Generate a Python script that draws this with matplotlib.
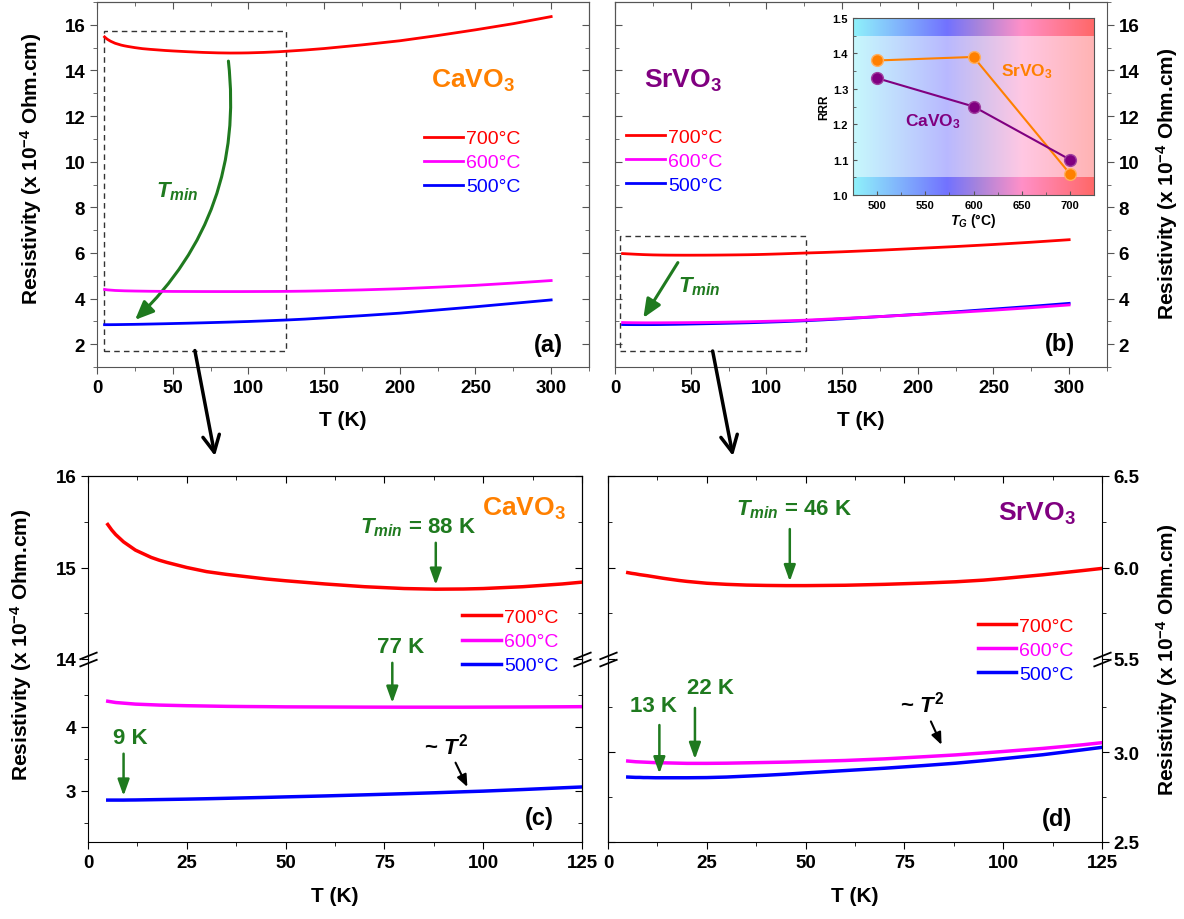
import numpy as np
import matplotlib.pyplot as plt
from matplotlib.patches import Rectangle, FancyArrowPatch, ConnectionPatch
from matplotlib.path import Path
from matplotlib.colors import LinearSegmentedColormap
from matplotlib.ticker import FixedLocator, FormatStrFormatter

plt.rcParams['font.family'] = ['Liberation Sans', 'DejaVu Sans']
plt.rcParams['font.weight'] = 'bold'
plt.rcParams['axes.labelweight'] = 'bold'
plt.rcParams['mathtext.fontset'] = 'custom'
plt.rcParams['mathtext.rm'] = 'Liberation Sans:bold'
plt.rcParams['mathtext.it'] = 'Liberation Sans:italic:bold'
plt.rcParams['mathtext.bf'] = 'Liberation Sans:bold'

# Resistivity (x 1e-4 Ohm.cm)
T = [5, 6, 7, 8, 9, 10, 12, 14, 16, 18, 20, 25, 30, 35, 40, 45, 50, 60, 70, 80, 88,
     95, 100, 110, 120, 125, 137.5, 150, 175, 200, 225, 250, 275, 300]
ca_700 = [15.47, 15.41, 15.36, 15.32, 15.28, 15.25, 15.19, 15.15, 15.11, 15.08, 15.055,
          15.00, 14.955, 14.925, 14.90, 14.875, 14.855, 14.82, 14.79, 14.77, 14.763,
          14.765, 14.77, 14.79, 14.82, 14.84, 14.895, 14.96, 15.12, 15.30, 15.53, 15.78,
          16.05, 16.36]
ca_600 = [4.40, 4.39, 4.38, 4.375, 4.37, 4.365, 4.355, 4.35, 4.345, 4.34, 4.337,
          4.33, 4.325, 4.32, 4.317, 4.315, 4.312, 4.31, 4.308, 4.307, 4.307,
          4.307, 4.308, 4.31, 4.313, 4.315, 4.325, 4.34, 4.38, 4.43, 4.50, 4.58,
          4.68, 4.79]
ca_500 = [2.855, 2.855, 2.855, 2.855, 2.855, 2.856, 2.857, 2.859, 2.861, 2.863, 2.865,
          2.87, 2.876, 2.883, 2.89, 2.897, 2.905, 2.92, 2.937, 2.955, 2.97,
          2.985, 2.995, 3.02, 3.047, 3.06, 3.10, 3.15, 3.25, 3.36, 3.50, 3.64,
          3.79, 3.94]
sr_700 = [5.972, 5.968, 5.965, 5.961, 5.958, 5.955, 5.948, 5.941, 5.935, 5.929, 5.924,
          5.914, 5.908, 5.904, 5.902, 5.901, 5.901, 5.903, 5.908, 5.915, 5.922,
          5.931, 5.94, 5.96, 5.983, 5.995, 6.02, 6.05, 6.12, 6.20, 6.28, 6.37,
          6.47, 6.58]
sr_600 = [2.950, 2.948, 2.946, 2.945, 2.944, 2.943, 2.941, 2.940, 2.939, 2.938, 2.937,
          2.937, 2.938, 2.940, 2.942, 2.944, 2.947, 2.953, 2.962, 2.974, 2.984,
          2.995, 3.003, 3.02, 3.04, 3.052, 3.09, 3.13, 3.21, 3.30, 3.39, 3.49,
          3.60, 3.72]
sr_500 = [2.861, 2.860, 2.859, 2.859, 2.858, 2.858, 2.857, 2.857, 2.857, 2.857, 2.857,
          2.858, 2.861, 2.866, 2.871, 2.877, 2.884, 2.897, 2.910, 2.925, 2.938,
          2.952, 2.963, 2.985, 3.012, 3.026, 3.065, 3.11, 3.21, 3.31, 3.42, 3.54,
          3.66, 3.79]
labels = ['700°C', '600°C', '500°C']
colors = ['#ff0000', '#ff00ff', '#0000ff']

# minimum temperatures (K): 700, 600, 500 °C
tmin_ca = [88, 77, 9]
tmin_sr = [46, 22, 13]

# inset: residual resistivity ratio vs growth temperature
tg = [500, 600, 700]
rrr_sr = [1.38, 1.39, 1.06]
rrr_ca = [1.33, 1.25, 1.10]

# zoom boxes drawn on the top panels (T range, rho range)
box_a = ((4.3, 125), (1.72, 15.74))
box_b = ((3, 126), (1.7, 6.75))

GRAY = '#555555'
GREEN = '#1f7a1f'
ORANGE = '#ff8000'
PURPLE = '#800080'
W, H = 1184, 920

fig = plt.figure(figsize=(W / 100, H / 100), dpi=100)


def frac(l, t, r, b):
    return [l / W, 1 - b / H, (r - l) / W, (b - t) / H]


def add_mirror(ax, side, major, minor, color):
    if side in ('top', 'bottom'):
        sec = ax.secondary_xaxis(side)
        axis = sec.xaxis
    else:
        sec = ax.secondary_yaxis(side)
        axis = sec.yaxis
    axis.set_major_locator(FixedLocator(major))
    axis.set_minor_locator(FixedLocator(minor))
    sec.tick_params(which='both', direction='in', color=color, labelleft=False,
                    labelright=False, labeltop=False, labelbottom=False)
    sec.tick_params(which='major', length=5)
    sec.tick_params(which='minor', length=3)
    for sp in sec.spines.values():
        sp.set_color(color)
    return sec


def legend(ax, handles, anchor):
    ax.legend(handles=handles, loc='upper left', bbox_to_anchor=anchor, frameon=False,
              prop={'size': 14, 'weight': 'normal'}, handlelength=2.0, handletextpad=0.15,
              labelspacing=0.33, borderpad=0, borderaxespad=0, labelcolor='linecolor')


# ---------------- top row ----------------
def top_panel(box, labels_right):
    ax = fig.add_axes(frac(*box))
    ax.set_xlim(0, 325)
    ax.set_ylim(1, 17)
    xm, xn = np.arange(0, 301, 50), np.arange(25, 326, 50)
    ym, yn = np.arange(2, 17, 2), np.arange(1, 18, 2)
    ax.xaxis.set_major_locator(FixedLocator(xm))
    ax.xaxis.set_minor_locator(FixedLocator(xn))
    ax.yaxis.set_major_locator(FixedLocator(ym))
    ax.yaxis.set_minor_locator(FixedLocator(yn))
    for sp in ax.spines.values():
        sp.set_color(GRAY)
    if labels_right:
        ax.yaxis.tick_right()
        ax.yaxis.set_label_position('right')
        add_mirror(ax, 'left', ym, yn, GRAY)
    else:
        add_mirror(ax, 'right', ym, yn, GRAY)
    add_mirror(ax, 'top', xm, xn, GRAY)
    ax.tick_params(which='both', direction='out', color=GRAY, labelsize=13.5, top=False)
    ax.tick_params(which='major', length=5)
    ax.tick_params(which='minor', length=3)
    ax.set_xlabel('T (K)', fontsize=15, labelpad=10)
    return ax


ax_a = top_panel((97, 3, 589, 368), False)
ax_b = top_panel((615, 3, 1107, 368), True)

ha = [ax_a.plot(T, y, color=c, lw=2, label=l)[0]
      for y, c, l in zip([ca_700, ca_600, ca_500], colors, labels)]
legend(ax_a, ha, (0.665, 0.65))
hb = [None] * 3
for i in (2, 1, 0):
    y = [sr_700, sr_600, sr_500][i]
    hb[i] = ax_b.plot(T, y, color=colors[i], lw=2, label=labels[i])[0]
legend(ax_b, hb, (0.023, 0.655))

for ax, (bx, by) in ((ax_a, box_a), (ax_b, box_b)):
    ax.add_patch(Rectangle((bx[0], by[0]), bx[1] - bx[0], by[1] - by[0], fill=False,
                           ls=(0, (4, 3)), lw=1, ec='#333333'))

ax_a.text(248, 13.6, 'CaVO$_3$', color=ORANGE, fontsize=19, ha='center', va='center')
ax_b.text(44.75, 13.6, 'SrVO$_3$', color=PURPLE, fontsize=19, ha='center', va='center')
ax_a.text(298, 2.0, '(a)', fontsize=17, ha='center', va='center')
ax_b.text(294, 2.05, '(b)', fontsize=17, ha='center', va='center')
ax_a.text(53, 8.75, '$T_{min}$', color=GREEN, fontsize=16, ha='center', va='center')
ax_b.text(56, 4.55, '$T_{min}$', color=GREEN, fontsize=16, ha='center', va='center')

ax_a.add_patch(FancyArrowPatch((86.6, 14.53), (23.8, 2.98), connectionstyle='arc3,rad=-0.25',
                               arrowstyle='-|>,head_length=0.7,head_width=0.3',
                               mutation_scale=16, color=GREEN, lw=2.2))
ax_b.add_patch(FancyArrowPatch((42.5, 5.68), (17.75, 3.05),
                               arrowstyle='-|>,head_length=0.7,head_width=0.3',
                               mutation_scale=16, color=GREEN, lw=2.2))

# inset
ins = fig.add_axes(frac(853, 19, 1094, 196))
cmap = LinearSegmentedColormap.from_list(
    'tg', [(0, '#8ff2fa'), (0.39, '#7272ff'), (0.52, '#a884dc'), (0.7, '#ff90c8'), (1, '#ff6868')])
ins.imshow(np.linspace(0, 1, 256)[None, :], extent=[475, 725, 1.0, 1.5], aspect='auto',
           cmap=cmap, zorder=0)
ins.add_patch(Rectangle((475, 1.05), 250, 0.4, color='white', alpha=0.5, lw=0, zorder=1))
ins.plot(tg, rrr_sr, '-o', color=ORANGE, ms=8.5, lw=1.5, mec='#ffb060', zorder=3)
ins.plot(tg, rrr_ca, '-o', color=PURPLE, ms=8.5, lw=1.5, mec='#a040a0', zorder=3)
ins.set_xlim(475, 725)
ins.set_ylim(1.0, 1.5)
ins.xaxis.set_major_locator(FixedLocator([500, 550, 600, 650, 700]))
ins.xaxis.set_minor_locator(FixedLocator([525, 575, 625, 675]))
ins.yaxis.set_major_locator(FixedLocator(np.arange(1.0, 1.51, 0.1)))
ins.yaxis.set_minor_locator(FixedLocator(np.arange(1.05, 1.5, 0.1)))
ins.yaxis.set_major_formatter(FormatStrFormatter('%.1f'))
ins.tick_params(which='both', direction='in', labelsize=8, color=GRAY)
ins.tick_params(which='major', length=3)
ins.tick_params(which='minor', length=2)
for sp in ins.spines.values():
    sp.set_color(GRAY)
ins.set_ylabel('RRR', fontsize=8.5, labelpad=2)
ins.set_xlabel('$T_G$ (°C)', fontsize=10, labelpad=1)
ins.text(655, 1.35, 'SrVO$_3$', color=ORANGE, fontsize=12.5, ha='center', va='center')
ins.text(558, 1.21, 'CaVO$_3$', color=PURPLE, fontsize=12.5, ha='center', va='center')


# ---------------- bottom row (broken y axes) ----------------
brk = Path([(-1, -0.8), (1, 0.0), (-1, 0.0), (1, 0.8)],
           [Path.MOVETO, Path.LINETO, Path.MOVETO, Path.LINETO])


def broken_panel(box, up_lim, lo_lim, up_maj, up_min, lo_maj, lo_min, labels_right, fmt):
    l, t, r, b = box
    m = (t + b) / 2
    lo = fig.add_axes(frac(l, m, r, b))
    up = fig.add_axes(frac(l, t, r, m))
    xm, xn = np.arange(0, 126, 25), np.arange(12.5, 126, 25)
    for ax, lim, maj, mnr in ((up, up_lim, up_maj, up_min), (lo, lo_lim, lo_maj, lo_min)):
        ax.set_facecolor('none')
        ax.set_xlim(0, 125)
        ax.set_ylim(*lim)
        ax.xaxis.set_major_locator(FixedLocator(xm))
        ax.xaxis.set_minor_locator(FixedLocator(xn))
        ax.yaxis.set_major_locator(FixedLocator(maj))
        ax.yaxis.set_minor_locator(FixedLocator(mnr))
        ax.yaxis.set_major_formatter(FormatStrFormatter(fmt))
        if labels_right:
            ax.yaxis.tick_right()
            add_mirror(ax, 'left', maj, mnr, 'k')
        else:
            add_mirror(ax, 'right', maj, mnr, 'k')
        ax.tick_params(which='both', direction='out', labelsize=13.5, top=False,
                       bottom=False, labelbottom=False)
        ax.tick_params(which='major', length=5)
        ax.tick_params(which='minor', length=3)
    up.spines['bottom'].set_visible(False)
    lo.spines['top'].set_visible(False)
    lo.tick_params(which='both', bottom=True, labelbottom=True)
    add_mirror(up, 'top', xm, xn, 'k')
    for x in (0, 1):
        lo.plot([x], [1], transform=lo.transAxes, marker=brk, ms=13, mew=1.3, mec='k',
                mfc='none', ls='none', clip_on=False, zorder=5)
    lo.set_xlabel('T (K)', fontsize=15, labelpad=11)
    return up, lo


up_c, lo_c = broken_panel((88, 477, 582, 843), (14, 16), (2.2, 5.06), [14, 15, 16], [14.5, 15.5],
                          [3, 4], [2.5, 3.5, 4.5], False, '%g')
up_d, lo_d = broken_panel((608, 477, 1102, 843), (5.5, 6.5), (2.5, 3.517), [5.5, 6.0, 6.5],
                          [5.75, 6.25], [2.5, 3.0], [2.75, 3.25], True, '%.1f')

for ax in (up_c, lo_c):
    hc = [ax.plot(T, y, color=c, lw=2.5, label=l)[0]
          for y, c, l in zip([ca_700, ca_600, ca_500], colors, labels)]
legend(up_c, hc, (0.758, 0.275))
for ax in (up_d, lo_d):
    hd = [None] * 3
    for i in (2, 1, 0):
        y = [sr_700, sr_600, sr_500][i]
        hd[i] = ax.plot(T, y, color=colors[i], lw=2.5, label=labels[i])[0]
legend(up_d, hd, (0.748, 0.228))

garrow = dict(arrowstyle='-|>,head_length=0.7,head_width=0.25', color=GREEN, lw=1.8,
              shrinkA=0, shrinkB=3, mutation_scale=14)
karrow = dict(arrowstyle='-|>,head_length=0.6,head_width=0.25', color='k', lw=1.5,
              shrinkA=0, shrinkB=0, mutation_scale=12)


def mark_tmin(ax, tm, curve, y_tail):
    ax.annotate('', xy=(tm, np.interp(tm, T, curve)), xytext=(tm, y_tail),
                arrowprops=garrow, annotation_clip=False)


# (c)
up_c.text(83.5, 15.45, '$T_{min}$ = 88 K', color=GREEN, fontsize=16, ha='center', va='center')
mark_tmin(up_c, tmin_ca[0], ca_700, 15.27)
up_c.text(121, 15.65, 'CaVO$_3$', color=ORANGE, fontsize=19, ha='right', va='center')
up_c.text(79, 14.14, '77 K', color=GREEN, fontsize=16, ha='center', va='center')
mark_tmin(lo_c, tmin_ca[1], ca_600, 5.0)
lo_c.text(10.6, 3.84, '9 K', color=GREEN, fontsize=16, ha='center', va='center')
mark_tmin(lo_c, tmin_ca[2], ca_500, 3.58)
lo_c.text(90.6, 3.71, '~ $T^2$', fontsize=16, ha='center', va='center')
lo_c.annotate('', xy=(96, 3.06), xytext=(93, 3.44), arrowprops=karrow)
lo_c.text(114.3, 2.59, '(c)', fontsize=17, ha='center', va='center')

# (d)
up_d.text(47, 6.32, '$T_{min}$ = 46 K', color=GREEN, fontsize=16, ha='center', va='center')
mark_tmin(up_d, tmin_sr[0], sr_700, 6.21)
up_d.text(118.5, 6.3, 'SrVO$_3$', color=PURPLE, fontsize=19, ha='right', va='center')
lo_d.text(26, 3.36, '22 K', color=GREEN, fontsize=16, ha='center', va='center')
mark_tmin(lo_d, tmin_sr[1], sr_600, 3.245)
lo_d.text(11.4, 3.26, '13 K', color=GREEN, fontsize=16, ha='center', va='center')
mark_tmin(lo_d, tmin_sr[2], sr_500, 3.15)
lo_d.text(79.5, 3.27, '~ $T^2$', fontsize=16, ha='center', va='center')
lo_d.annotate('', xy=(84.4, 3.04), xytext=(81.7, 3.17), arrowprops=karrow)
lo_d.text(113.6, 2.63, '(d)', fontsize=17, ha='center', va='center')

# y labels
ylab = 'Resistivity (x 10$^{-4}$ Ohm.cm)'
fig.text(31 / W, 1 - 169 / H, ylab, rotation=90, ha='center', va='center', fontsize=15)
fig.text(1167 / W, 1 - 184 / H, ylab, rotation=90, ha='center', va='center', fontsize=15)
fig.text(21 / W, 1 - 645 / H, ylab, rotation=90, ha='center', va='center', fontsize=15)
fig.text(1167 / W, 1 - 660 / H, ylab, rotation=90, ha='center', va='center', fontsize=15)

# arrows from the zoom boxes to the lower panels
for ax, (bx, by), end in ((ax_a, box_a, (215, 457)), (ax_b, box_b, (733, 457))):
    con = ConnectionPatch(xyA=(np.mean(bx), by[0]), coordsA=ax.transData,
                          xyB=(end[0] / W, 1 - end[1] / H), coordsB=fig.transFigure,
                          arrowstyle='->,head_length=0.5,head_width=0.25', lw=2.5,
                          mutation_scale=24, color='k', shrinkA=0, shrinkB=0)
    fig.add_artist(con)

# bold tick labels everywhere
fig.canvas.draw()
for ax in fig.axes:
    for lbl in ax.get_xticklabels(which='both') + ax.get_yticklabels(which='both'):
        lbl.set_fontweight('bold')

fig.savefig('out.png', dpi=100)
